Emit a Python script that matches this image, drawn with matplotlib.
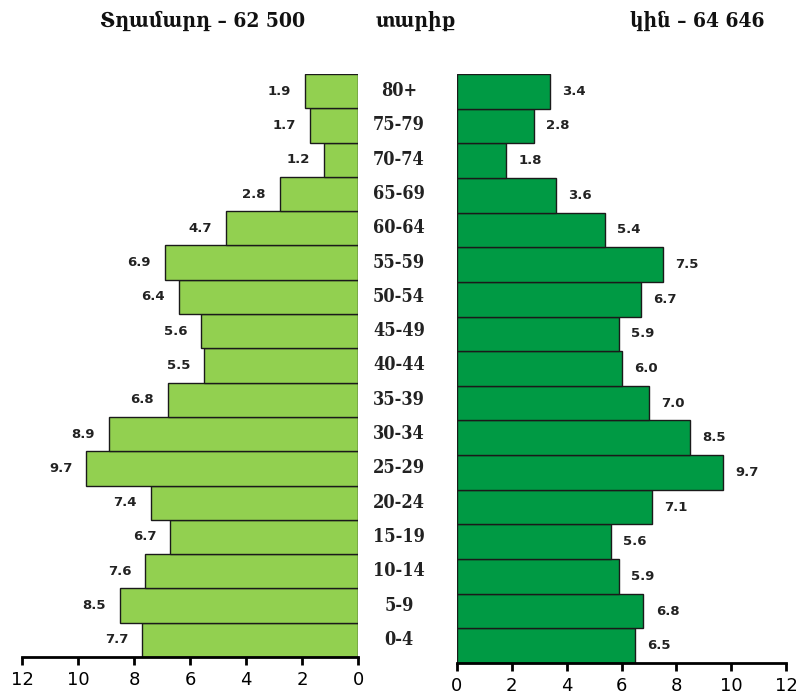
import matplotlib
matplotlib.use("Agg")
import matplotlib.pyplot as plt
import numpy as np

ages = ["0-4", "5-9", "10-14", "15-19", "20-24", "25-29", "30-34", "35-39",
        "40-44", "45-49", "50-54", "55-59", "60-64", "65-69", "70-74", "75-79", "80+"]
male = [7.7, 8.5, 7.6, 6.7, 7.4, 9.7, 8.9, 6.8, 5.5, 5.6, 6.4, 6.9, 4.7, 2.8, 1.2, 1.7, 1.9]
female = [6.5, 6.8, 5.9, 5.6, 7.1, 9.7, 8.5, 7.0, 6.0, 5.9, 6.7, 7.5, 5.4, 3.6, 1.8, 2.8, 3.4]
ticks = [0, 2, 4, 6, 8, 10, 12]
title_m = "Տղամարդ – 62 500"
title_age = "տարիք"
title_f = "կին – 64 646"

W, H = 796, 696
fig = plt.figure(figsize=(W / 100, H / 100), dpi=100)

def frac(x0, y0, x1, y1):
    return [x0 / W, 1 - y1 / H, (x1 - x0) / W, (y1 - y0) / H]

axL = fig.add_axes(frac(22, 74, 358, 657))
axR = fig.add_axes(frac(457, 74, 786, 663))

y = np.arange(len(ages))
axL.barh(y, male, height=1.0, color="#92D050", edgecolor="#1a1a1a", linewidth=1.0)
axR.barh(y, female, height=1.0, color="#009A44", edgecolor="#1a1a1a", linewidth=1.0)

axL.set_xlim(12, 0)
axR.set_xlim(0, 12)
for ax in (axL, axR):
    ax.set_ylim(-0.5, len(ages) - 0.5)
    ax.set_xticks(ticks)
    ax.set_xticklabels([str(t) for t in ticks], fontsize=13, family="DejaVu Sans")
    ax.set_yticks([])
    for s in ("top", "left", "right"):
        ax.spines[s].set_visible(False)
    ax.spines["bottom"].set_linewidth(2)
    ax.tick_params(axis="x", length=6, width=2, pad=4)

for i, v in enumerate(male):
    axL.text(v + 0.5, i, f"{v:.1f}", ha="right", va="center", fontsize=9.5,
             fontweight="bold", color="#222222")
for i, v in enumerate(female):
    axR.text(v + 0.45, i, f"{v:.1f}", ha="left", va="center", fontsize=9.5,
             fontweight="bold", color="#222222")

serif = ["DejaVu Serif", "DejaVu Sans"]
# age labels in the centre
for i, a in enumerate(ages):
    yy = axL.transData.transform((0, i))[1]
    fig.text(399 / W, yy / H, a, ha="center", va="center", fontsize=13,
             family=serif, fontstretch="condensed", fontweight="bold",
             color="#222222")

tf = dict(fontsize=15, fontweight="bold", family=serif, fontstretch="condensed",
          ha="center", va="center", color="#111111")
fig.text(203 / W, 1 - 21 / H, title_m, **tf)
fig.text(416 / W, 1 - 21 / H, title_age, **tf)
fig.text(697 / W, 1 - 21 / H, title_f, **tf)

fig.savefig("out.png", dpi=100)
